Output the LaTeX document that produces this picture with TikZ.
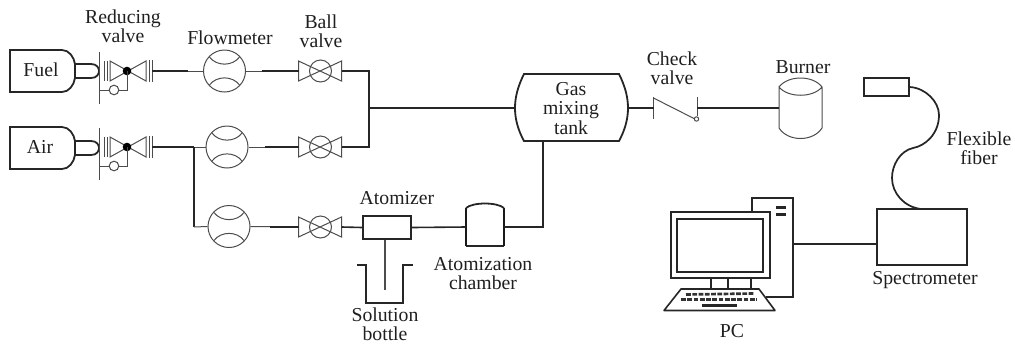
\documentclass[tikz,border=0pt]{standalone}
\usepackage{fontspec}
\setmainfont{Liberation Serif}
\tikzset{
  thinline/.style={draw=black!70,line width=0.75pt},
  thickline/.style={draw=black!85,line width=1.35pt},
  pipe/.style={draw=black!85,line width=1.2pt},
  lbl/.style={inner sep=0pt,align=center,text=black!88,font=\fontsize{14.8}{14.6}\selectfont},
  fmeter/.style={circle,thinline,minimum size=31.5pt,inner sep=0pt},
  flowmeter/.pic={
    \node[fmeter] (-c) at (0,0) {};
    \draw[thinline] (-15,-14) .. controls (-8,-4.5) and (8,-4.5) .. (15,-14);
    \draw[thinline] (-15,14) .. controls (-8,4.5) and (8,4.5) .. (15,14);
  },
  ballvalve/.pic={
    \draw[thinline] (-22,-10) -- (-22,10) -- (21,-10) -- (21,10) -- cycle;
    \draw[thinline] (0,0) circle[radius=11];
    \coordinate (-w) at (-22,0);
    \coordinate (-e) at (21,0);
  },
  reducer/.pic={
    \draw[thinline] (-28,-19) -- (-28,33);
    \draw[thinline] (-23,-10) -- (-23,10) (-20,-10) -- (-20,10);
    \draw[thinline] (-17,-10) -- (-17,10) -- (19,-10) -- (19,10) -- cycle;
    \draw[thinline] (22,-11) -- (22,11) (25,-11) -- (25,11);
    \fill[black] (0,0) circle[radius=4.3];
    \draw[thinline] (0,0) -- (0,19) -- (-8,19);
    \draw[thinline] (-28,19) -- (-18,19);
    \draw[thinline] (-13,19) circle[radius=4.8];
    \coordinate (-w) at (-28,0);
    \coordinate (-e) at (25,0);
  },
  bottle/.pic={
    \draw[thickline] (0,-21) -- (52,-21) .. controls (59,-21) and (64,-14) .. (65,-7)
      -- (65,7) .. controls (64,14) and (59,21) .. (52,21) -- (0,21) -- cycle;
    \draw[thickline] (65,-7) -- (81,-7) .. controls (87,-7) and (89,-3) .. (89,0)
      .. controls (89,3) and (87,7) .. (81,7) -- (65,7);
  }
}
\begin{document}
\begin{tikzpicture}[x=0.75pt,y=-0.75pt]
\useasboundingbox (0,0) rectangle (1015,344);

% gas sources
\pic (b1) at (10,71) {bottle};
\pic (b2) at (10,148) {bottle};
\node[lbl] (fuel) at (41,70) {Fuel};
\node[lbl] (air) at (40,147) {Air};

% valves and meters
\pic (rv1) at (127,71) {reducer};
\pic (rv2) at (127,147) {reducer};
\pic (fm1) at (224.5,71) {flowmeter};
\pic (fm2) at (227,147) {flowmeter};
\pic (fm3) at (229,226.5) {flowmeter};
\pic (bv1) at (320.5,71) {ballvalve};
\pic (bv2) at (320.5,147) {ballvalve};
\pic (bv3) at (320.5,227) {ballvalve};

% junctions
\coordinate (j1) at (369,71);
\coordinate (j2) at (369,147);
\coordinate (jm) at (369,108);
\coordinate (ja) at (194,147);
\coordinate (ja3) at (194,227);
\coordinate (th1) at (188,71);
\coordinate (th2) at (262,71);
\coordinate (th3) at (265,147);
\coordinate (th4) at (194,147);
\coordinate (th5) at (270,227);

% tank
\coordinate (tankW) at (515,108);
\coordinate (tankE) at (628,108);
\coordinate (tankS) at (543,141);
\draw[thickline] (524,74) -- (619,74) .. controls (625,86) and (628,97) .. (628,108)
  .. controls (628,119) and (625,130) .. (619,141) -- (524,141)
  .. controls (518,130) and (515,119) .. (515,108)
  .. controls (515,97) and (518,86) .. (524,74) -- cycle;
\node[lbl] (tanktxt) at (571,108.5) {Gas\\mixing\\tank};

% atomizer, chamber, bottle
\node[draw=black!85,line width=1.3pt,minimum width=36pt,minimum height=17.2pt,inner sep=0pt] (atom) at (387,227.5) {};
\coordinate (chW) at (466,227);
\coordinate (chE) at (504,227);
\draw[thickline] (466,246) -- (504,246);
\draw[line width=2.1pt,draw=black!90] (466,246) -- (466,208);
\draw[line width=2.1pt,draw=black!90] (504,246) -- (504,208);
\draw[thickline] (466,208) .. controls (473,202) and (497,202) .. (504,208);
\coordinate (pipeEnd) at (385,290);
\draw[thickline] (357,265) -- (366,265) -- (366,303) -- (403,303) -- (403,265) -- (413,265);

% check valve
\coordinate (cvW) at (653.5,108);
\coordinate (cvE) at (697,108);
\draw[thinline] (653.5,97) -- (653.5,119);
\draw[thinline] (653.5,98) -- (694,118.5);
\draw[thinline] (697,97) -- (697,116);
\draw[thinline,fill=white] (696.5,119) circle[radius=2.2];

% burner
\coordinate (burnW) at (779,108);
\draw[thinline] (779,87) .. controls (788,75) and (813,75) .. (822,87)
  .. controls (813,98) and (788,98) .. (779,87) -- (779,128)
  .. controls (788,142) and (813,142) .. (822,128) -- (822,87);

% spectrometer and fiber
\node[draw=black!85,line width=1.3pt,minimum width=67pt,minimum height=41.5pt,inner sep=0pt] (spec) at (922,237) {};
\node[draw=black!85,line width=1.3pt,minimum width=33.5pt,minimum height=13.2pt,inner sep=0pt] (head) at (886.5,87) {};
\coordinate (fibS) at (921,209);
\draw[line width=1.3pt,draw=black!85] (head.east) .. controls (926,88) and (939,102) .. (939,115)
  .. controls (939,134) and (925,146) .. (913,148)
  .. controls (900,151) and (892,165) .. (892,178)
  .. controls (892,193) and (904,207) .. (fibS);

% PC
\draw[line width=1.2pt,draw=black!85] (752,212) -- (752,198) -- (793,198) -- (793,297) -- (766,297);
\coordinate (pcE) at (793,244);
\fill[black!85] (776,205.5) rectangle (786,208.5);
\fill[black!85] (776,213) rectangle (786,216);
\node[draw=black!85,line width=1.2pt,minimum width=74.5pt,minimum height=49.5pt,inner sep=0pt] (mon) at (720.5,245) {};
\node[draw=black!85,line width=1.2pt,minimum width=64.5pt,minimum height=39.75pt,inner sep=0pt] (scr) at (720,245.5) {};
\draw[line width=1.2pt,draw=black!85] (711,278) -- (711,289) (728,278) -- (728,289) (751,278) -- (751,289);
\draw[line width=1.2pt,draw=black!85,line join=round] (681,289) -- (759,289) -- (775,310.5) -- (664,310.5) -- cycle;
\draw[line width=2pt,draw=black!80,dash pattern=on 3.6pt off 1.1pt] (686,294.5) -- (754,293.5);
\draw[line width=2pt,draw=black!80,dash pattern=on 3.6pt off 1.1pt] (681,299.5) -- (757,299.5);
\fill[black!85] (702,303.5) rectangle (737,306.5);

% connectors
\draw[thinline] (rv1-e) -- (fm1-c.west);
\draw[pipe] (rv1-e) -- (th1);
\draw[thinline] (fm1-c.east) -- (bv1-w);
\draw[pipe] (th2) -- (bv1-w);
\draw[pipe] (bv1-e) -- (j1) -- (j2) -- (bv2-e);
\draw[pipe] (jm) -- (tankW);
\draw[thinline] (rv2-e) -- (fm2-c.west);
\draw[pipe,line width=1.5pt] (rv2-e) -- (th4);
\draw[thinline] (fm2-c.east) -- (bv2-w);
\draw[pipe] (th3) -- (bv2-w);
\draw[pipe,line width=1.5pt] (ja) -- (ja3);
\draw[thinline] (ja3) -- (fm3-c.west);
\draw[thinline] (fm3-c.east) -- (bv3-w);
\draw[pipe,line width=1.5pt] (th5) -- (bv3-w);
\draw[pipe] (bv3-e) -- (atom.west);
\draw[pipe] (atom.east) -- (chW);
\draw[pipe] (chE) -| (tankS);
\draw[thinline,line width=1pt] (atom.south -| pipeEnd) -- (pipeEnd);
\draw[pipe] (tankE) -- (cvW);
\draw[pipe] (cvE) -- (burnW);
\draw[pipe,line width=1.1pt] (pcE) -- (pcE -| spec.west);

% labels
\node[lbl] (lrv) at (123,26.5) {Reducing\\valve};
\node[lbl] (lfm) at (230,38) {Flowmeter};
\node[lbl] (lbv) at (321,31) {Ball\\valve};
\node[lbl] (lat) at (397,198) {Atomizer};
\node[lbl] (lch) at (483,273.5) {Atomization\\chamber};
\node[lbl] (lsb) at (385,324) {Solution\\bottle};
\node[lbl] (lcv) at (672,68) {Check\\valve};
\node[lbl] (lbu) at (803,67) {Burner};
\node[lbl] (lff) at (979,148) {Flexible\\fiber};
\node[lbl] (lsp) at (925,280) {Spectrometer};
\node[lbl] (lpc) at (732,331) {PC};
\end{tikzpicture}
\end{document}
